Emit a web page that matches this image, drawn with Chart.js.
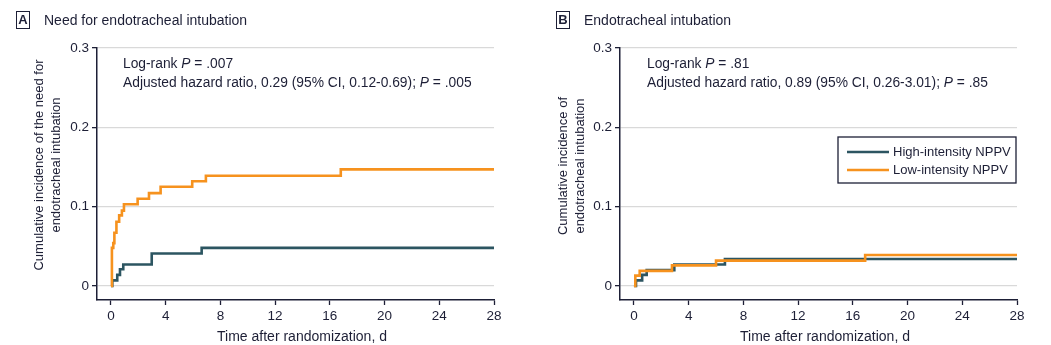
<!DOCTYPE html>
<html>
<head>
<meta charset="utf-8">
<script src="https://cdn.jsdelivr.net/npm/chart.js@4.4.1/dist/chart.umd.min.js"></script>
<style>
  body { margin: 0; width: 1051px; height: 345px; background: #fff; position: relative; overflow: hidden;
         font-family: "Liberation Sans", Arial, sans-serif; color: #1d1f36; }
  canvas { position: absolute; top: 0; }
  .tag { position: absolute; top: 11px; width: 12px; height: 16px; border: 1.3px solid #1d1f36;
         font-size: 13px; font-weight: bold; text-align: center; line-height: 16px; }
  .head { position: absolute; top: 10px; font-size: 14px; line-height: 20px; white-space: nowrap; }
  .note { position: absolute; top: 54px; font-size: 13.8px; line-height: 19px; white-space: nowrap; }
  .ytitle { position: absolute; width: 260px; font-size: 13px; line-height: 17px; text-align: center;
            transform: translate(-50%, -50%) rotate(-90deg); white-space: nowrap; }
  .xtitle { position: absolute; top: 327px; font-size: 14px; line-height: 18px; white-space: nowrap;
            transform: translateX(-50%); }
</style>
</head>
<body>
<canvas id="needChart" width="525" height="345" style="left:0"></canvas>
<canvas id="intubChart" width="526" height="345" style="left:525px"></canvas>

<div class="tag" style="left:16px">A</div>
<div class="head" style="left:44px">Need for endotracheal intubation</div>
<div class="note" style="left:123px">Log-rank <i>P</i> = .007<br>Adjusted hazard ratio, 0.29 (95% CI, 0.12-0.69); <i>P</i> = .005</div>
<div class="ytitle" style="left:47px;top:165px">Cumulative incidence of the need for<br>endotracheal intubation</div>
<div class="xtitle" style="left:302px">Time after randomization, d</div>

<div class="tag" style="left:556px">B</div>
<div class="head" style="left:584px">Endotracheal intubation</div>
<div class="note" style="left:647px">Log-rank <i>P</i> = .81<br>Adjusted hazard ratio, 0.89 (95% CI, 0.26-3.01); <i>P</i> = .85</div>
<div class="ytitle" style="left:571px;top:166px">Cumulative incidence of<br>endotracheal intubation</div>
<div class="xtitle" style="left:825px">Time after randomization, d</div>

<script>
var dayTicks = [0, 4, 8, 12, 16, 20, 24, 28];
var incidenceTicks = [0, 0.1, 0.2, 0.3];
var seriesLabels = ['High-intensity NPPV', 'Low-intensity NPPV'];

// need for intubation, step times (days) and cumulative incidence
var needHighDays = [0, 0.1, 0.46, 0.66, 0.9, 2.98, 6.63, 28];
var needHighInc  = [0, 0.007, 0.014, 0.021, 0.027, 0.041, 0.048, 0.048];
var needLowDays  = [0, 0.07, 0.17, 0.25, 0.4, 0.6, 0.8, 0.95, 1.95, 2.78, 3.63, 5.94, 6.94, 16.8, 28];
var needLowInc   = [0, 0.048, 0.054, 0.067, 0.081, 0.089, 0.095, 0.103, 0.110, 0.117, 0.125, 0.132, 0.139, 0.147, 0.147];

// actual intubation
var intubHighDays = [0, 0.15, 0.6, 0.93, 2.95, 6.65, 28];
var intubHighInc  = [0, 0.007, 0.014, 0.020, 0.027, 0.034, 0.034];
var intubLowDays  = [0, 0.1, 0.42, 2.78, 6.0, 16.9, 28];
var intubLowInc   = [0, 0.013, 0.019, 0.026, 0.032, 0.039, 0.039];

var ink = '#1d1f36';
var teal = '#2c5561';
var orange = '#f6921e';

function pts(days, inc) {
  return days.map(function (d, i) { return { x: d, y: inc[i] }; });
}

// legend box drawn inside the plot area, top right
var legendBox = {
  id: 'legendBox',
  afterDatasetsDraw: function (chart, args, opts) {
    if (!opts.show) return;
    var ctx = chart.ctx, area = chart.chartArea;
    var w = 178, h = 46;
    var x = area.right - w - 1, y = area.top + 89;
    ctx.save();
    ctx.strokeStyle = ink;
    ctx.lineWidth = 1.3;
    ctx.strokeRect(x, y, w, h);
    ctx.font = '13px "Liberation Sans", Arial, sans-serif';
    ctx.textBaseline = 'middle';
    chart.data.datasets.forEach(function (ds, i) {
      var ly = y + 15 + i * 18;
      ctx.strokeStyle = ds.borderColor;
      ctx.lineWidth = 2.6;
      ctx.beginPath();
      ctx.moveTo(x + 9, ly);
      ctx.lineTo(x + 51, ly);
      ctx.stroke();
      ctx.fillStyle = ink;
      ctx.fillText(ds.label, x + 55, ly);
    });
    ctx.restore();
  }
};

function makeConfig(high, low, rightPad, yWidth, showLegend) {
  return {
    type: 'line',
    data: {
      datasets: [{
        label: seriesLabels[0],
        data: high,
        borderColor: teal,
        borderWidth: 2.6,
        stepped: true,
        pointRadius: 0,
        fill: false,
        order: 1
      }, {
        label: seriesLabels[1],
        data: low,
        borderColor: orange,
        borderWidth: 2.6,
        stepped: true,
        pointRadius: 0,
        fill: false,
        order: 0
      }]
    },
    options: {
      responsive: false,
      animation: false,
      events: [],
      layout: { padding: { left: 0, right: rightPad, top: 48, bottom: 0 } },
      scales: {
        x: {
          type: 'linear',
          min: -1.02,
          max: 28,
          afterBuildTicks: function (scale) {
            scale.ticks = dayTicks.map(function (v) { return { value: v }; });
          },
          afterFit: function (scale) { scale.height = 45; },
          grid: { drawOnChartArea: false, drawTicks: true, tickLength: 5, tickColor: ink, tickWidth: 1.3 },
          border: { color: ink, width: 1.5 },
          ticks: {
            color: ink,
            padding: 3,
            maxRotation: 0,
            font: { family: '"Liberation Sans", Arial, sans-serif', size: 13.5 }
          }
        },
        y: {
          type: 'linear',
          min: -0.0177,
          max: 0.3,
          afterBuildTicks: function (scale) {
            scale.ticks = incidenceTicks.map(function (v) { return { value: v }; });
          },
          afterFit: function (scale) { scale.width = yWidth; },
          grid: { color: '#d9d9d9', lineWidth: 1.3, tickLength: 5, tickColor: ink, tickWidth: 1.3 },
          border: { color: ink, width: 1.5 },
          ticks: {
            color: ink,
            padding: 3,
            font: { family: '"Liberation Sans", Arial, sans-serif', size: 13.5 },
            callback: function (v) { return v === 0 ? '0' : v.toFixed(1); }
          }
        }
      },
      plugins: {
        legend: { display: false },
        tooltip: { enabled: false },
        legendBox: { show: showLegend }
      }
    },
    plugins: [legendBox]
  };
}

new Chart(document.getElementById('needChart'),
  makeConfig(pts(needHighDays, needHighInc), pts(needLowDays, needLowInc), 31, 97, false));
new Chart(document.getElementById('intubChart'),
  makeConfig(pts(intubHighDays, intubHighInc), pts(intubLowDays, intubLowInc), 34, 95, true));
</script>
</body>
</html>
